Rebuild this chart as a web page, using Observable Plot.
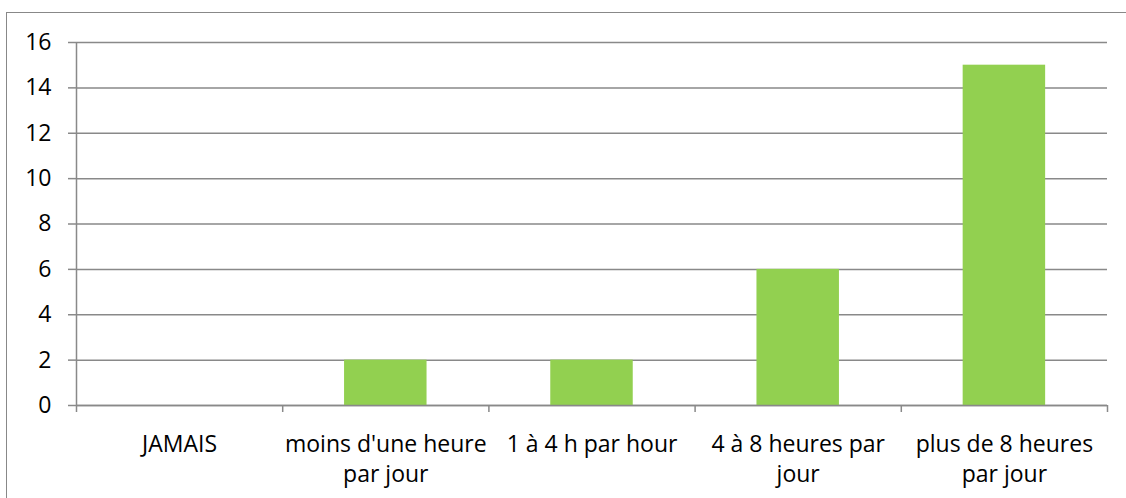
<!DOCTYPE html>
<html>
<head>
<meta charset="utf-8">
<script src="https://cdn.jsdelivr.net/npm/d3@7"></script>
<script src="https://cdn.jsdelivr.net/npm/@observablehq/plot@0.6"></script>
<style>
  html, body { margin: 0; padding: 0; background: #fff; }
  #wrap { position: relative; width: 1126px; height: 498px; overflow: hidden; }
  #border { position: absolute; left: 6px; top: 12px; right: -10px; bottom: -10px;
            border-top: 1.5px solid #888; border-left: 1.5px solid #888; }
  #chart { position: absolute; left: 0; top: 0; }
</style>
</head>
<body>
<div id="wrap"><div id="border"></div><div id="chart"></div></div>
<script>
const categories = [
  "JAMAIS",
  "moins d'une heure\npar jour",
  "1 à 4 h par hour",
  "4 à 8 heures par\njour",
  "plus de 8 heures\npar jour"
];
const values = [0, 2, 2, 6, 15];
const yTicks = [0, 2, 4, 6, 8, 10, 12, 14, 16];

const data = categories.map((c, i) => ({category: c, value: values[i], i}));
const bounds = d3.range(categories.length + 1);

const grey = "#898989";
const font = "'Open Sans', sans-serif";

const chart = Plot.plot({
  width: 1126,
  height: 498,
  marginLeft: 76,
  marginRight: 19,
  marginTop: 42,
  marginBottom: 93,
  style: {fontFamily: font, fontSize: "23px", color: "#000", background: "transparent"},
  x: {type: "linear", domain: [0, categories.length]},
  y: {domain: [0, 16]},
  marks: [
    Plot.gridY(yTicks, {stroke: grey, strokeOpacity: 1, strokeWidth: 1.5}),
    Plot.rectY(data, {x1: d => d.i + 0.3, x2: d => d.i + 0.7, y1: 0, y2: "value", fill: "#92D050"}),
    Plot.ruleY([0], {stroke: grey, strokeWidth: 1.5}),
    Plot.ruleX([0], {y1: 0, y2: 16, stroke: grey, strokeWidth: 1.5}),
    Plot.axisY({ticks: yTicks, tickSize: 8, tickPadding: 17, stroke: grey, strokeWidth: 1.5,
                fontSize: 23, fill: "#000", label: null}),
    Plot.axisX({ticks: bounds, tickSize: 7, tickFormat: () => "", stroke: grey, strokeWidth: 1.5, label: null}),
    Plot.text(data, {x: d => d.i + 0.5, y: 0, text: "category", lineAnchor: "top", dy: 25,
                     lineHeight: 1.3, fontSize: 23, fill: "#000", textAnchor: "middle"})
  ]
});
document.getElementById("chart").appendChild(chart);
</script>
</body>
</html>
